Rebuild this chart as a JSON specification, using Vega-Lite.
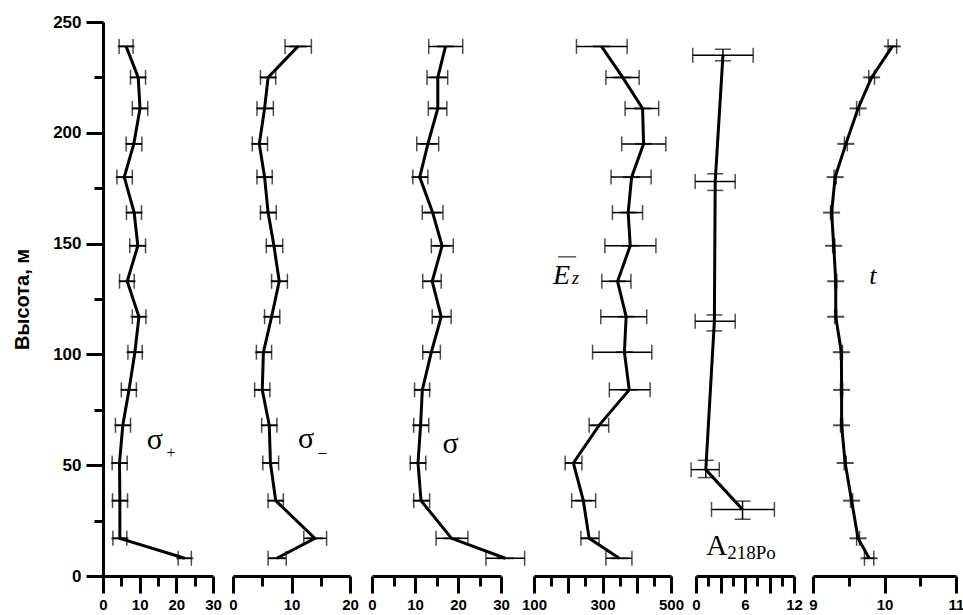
{
  "$schema": "https://vega.github.io/schema/vega-lite/v6.json",
  "background": "white",
  "padding": {"left": 12, "top": 13, "right": 0, "bottom": 0},
  "bounds": "flush",
  "spacing": 20,
  "config": {
    "view": {"stroke": null},
    "axis": {
      "domainColor": "black", "domainWidth": 3, "tickColor": "black", "tickWidth": 3,
      "labelColor": "black", "labelFont": "Liberation Sans", "labelFontWeight": "bold",
      "labelFontSize": 15, "labelFlush": false, "labelOverlap": false, "labelBound": false,
      "grid": false, "labelPadding": 4, "tickSize": 17
    }
  },
  "datasets": {
    "sp": [
      {"h": 8, "v": 22.3, "lo": 20.5, "hi": 24.1},
      {"h": 17, "v": 4.6, "lo": 2.7, "hi": 6.5},
      {"h": 34, "v": 4.6, "lo": 2.6, "hi": 6.7},
      {"h": 51, "v": 4.5, "lo": 2.5, "hi": 6.6},
      {"h": 68, "v": 5.4, "lo": 3.4, "hi": 7.5},
      {"h": 84, "v": 7.1, "lo": 5.0, "hi": 9.1},
      {"h": 101, "v": 8.7, "lo": 6.8, "hi": 10.7},
      {"h": 117, "v": 9.8, "lo": 8.0, "hi": 11.7},
      {"h": 133, "v": 6.6, "lo": 4.5, "hi": 8.5},
      {"h": 149, "v": 9.5, "lo": 7.3, "hi": 11.6},
      {"h": 164, "v": 8.5, "lo": 6.4, "hi": 10.5},
      {"h": 180, "v": 5.8, "lo": 3.8, "hi": 8.0},
      {"h": 195, "v": 8.4, "lo": 6.3, "hi": 10.6},
      {"h": 211, "v": 10.1, "lo": 8.0, "hi": 12.2},
      {"h": 225, "v": 9.6, "lo": 7.5, "hi": 11.6},
      {"h": 239, "v": 6.3, "lo": 4.4, "hi": 8.2}
    ],
    "sm": [
      {"h": 8, "v": 7.5, "lo": 6.0, "hi": 9.1},
      {"h": 17, "v": 14.0, "lo": 12.1, "hi": 16.0},
      {"h": 34, "v": 7.3, "lo": 6.0, "hi": 8.6},
      {"h": 51, "v": 6.4, "lo": 5.1, "hi": 7.8},
      {"h": 68, "v": 6.2, "lo": 4.9, "hi": 7.5},
      {"h": 84, "v": 5.0, "lo": 3.7, "hi": 6.3},
      {"h": 101, "v": 5.2, "lo": 4.0, "hi": 6.6},
      {"h": 117, "v": 6.6, "lo": 5.4, "hi": 8.0},
      {"h": 133, "v": 7.9, "lo": 6.6, "hi": 9.3},
      {"h": 149, "v": 7.0, "lo": 5.7, "hi": 8.5},
      {"h": 164, "v": 6.0, "lo": 4.7, "hi": 7.4},
      {"h": 180, "v": 5.4, "lo": 4.1, "hi": 6.7},
      {"h": 195, "v": 4.5, "lo": 3.3, "hi": 5.9},
      {"h": 211, "v": 5.4, "lo": 4.1, "hi": 6.9},
      {"h": 225, "v": 6.0, "lo": 4.7, "hi": 7.3},
      {"h": 239, "v": 11.1, "lo": 8.9, "hi": 13.4}
    ],
    "s": [
      {"h": 8, "v": 31.0, "lo": 26.5, "hi": 35.5},
      {"h": 17, "v": 18.5, "lo": 14.9, "hi": 22.3},
      {"h": 34, "v": 11.4, "lo": 9.7, "hi": 13.4},
      {"h": 51, "v": 10.7, "lo": 8.9, "hi": 12.5},
      {"h": 68, "v": 11.3, "lo": 9.7, "hi": 13.2},
      {"h": 84, "v": 11.7, "lo": 9.9, "hi": 13.4},
      {"h": 101, "v": 13.8, "lo": 11.8, "hi": 15.9},
      {"h": 117, "v": 16.1, "lo": 14.0, "hi": 18.4},
      {"h": 133, "v": 14.0, "lo": 11.8, "hi": 16.1},
      {"h": 149, "v": 16.3, "lo": 13.8, "hi": 18.9},
      {"h": 164, "v": 14.1, "lo": 11.7, "hi": 16.5},
      {"h": 180, "v": 11.1, "lo": 9.5, "hi": 13.0},
      {"h": 195, "v": 13.0, "lo": 10.4, "hi": 15.5},
      {"h": 211, "v": 15.3, "lo": 13.1, "hi": 17.4},
      {"h": 225, "v": 15.3, "lo": 12.8, "hi": 17.6},
      {"h": 239, "v": 17.1, "lo": 13.2, "hi": 21.1}
    ],
    "ez": [
      {"h": 8, "v": 349, "lo": 310, "hi": 386},
      {"h": 17, "v": 261, "lo": 237, "hi": 290},
      {"h": 34, "v": 244, "lo": 210, "hi": 280},
      {"h": 51, "v": 215, "lo": 191, "hi": 240},
      {"h": 68, "v": 290, "lo": 261, "hi": 318},
      {"h": 84, "v": 378, "lo": 320, "hi": 439},
      {"h": 101, "v": 364, "lo": 271, "hi": 444},
      {"h": 117, "v": 369, "lo": 295, "hi": 429},
      {"h": 133, "v": 344, "lo": 298, "hi": 383},
      {"h": 149, "v": 381, "lo": 307, "hi": 456},
      {"h": 164, "v": 375, "lo": 329, "hi": 417},
      {"h": 180, "v": 385, "lo": 325, "hi": 442},
      {"h": 195, "v": 420, "lo": 356, "hi": 485},
      {"h": 211, "v": 417, "lo": 366, "hi": 464},
      {"h": 225, "v": 359, "lo": 310, "hi": 407},
      {"h": 239, "v": 297, "lo": 224, "hi": 372}
    ],
    "a": [
      {"h": 30, "v": 5.7, "lo": 1.9, "hi": 9.6, "hlo": 25.6, "hhi": 33.8},
      {"h": 48, "v": 1.2, "lo": -0.6, "hi": 2.85, "hlo": 44.4, "hhi": 52.2},
      {"h": 115, "v": 2.25, "lo": -0.1, "hi": 4.8, "hlo": 110.6, "hhi": 117.8},
      {"h": 178, "v": 2.35, "lo": -0.1, "hi": 4.8, "hlo": 174, "hhi": 181.5},
      {"h": 235, "v": 3.3, "lo": -0.4, "hi": 7.0, "hlo": 232.5, "hhi": 237.7}
    ],
    "t": [
      {"h": 8, "v": 9.785, "lo": 9.72, "hi": 9.85},
      {"h": 17, "v": 9.63, "lo": 9.61, "hi": 9.65},
      {"h": 34, "v": 9.54, "lo": 9.525, "hi": 9.555},
      {"h": 51, "v": 9.45, "lo": 9.435, "hi": 9.465},
      {"h": 68, "v": 9.4, "lo": 9.385, "hi": 9.415},
      {"h": 84, "v": 9.4, "lo": 9.385, "hi": 9.415},
      {"h": 101, "v": 9.397, "lo": 9.382, "hi": 9.412},
      {"h": 117, "v": 9.318, "lo": 9.303, "hi": 9.333},
      {"h": 133, "v": 9.318, "lo": 9.303, "hi": 9.333},
      {"h": 149, "v": 9.29, "lo": 9.275, "hi": 9.305},
      {"h": 164, "v": 9.26, "lo": 9.245, "hi": 9.275},
      {"h": 180, "v": 9.31, "lo": 9.295, "hi": 9.325},
      {"h": 195, "v": 9.46, "lo": 9.44, "hi": 9.48},
      {"h": 211, "v": 9.63, "lo": 9.61, "hi": 9.65},
      {"h": 225, "v": 9.82, "lo": 9.78, "hi": 9.86},
      {"h": 239, "v": 10.11, "lo": 10.05, "hi": 10.17}
    ]
  },
  "hconcat": [
    {
      "width": 110, "height": 554,
      "data": {"name": "sp"},
      "resolve": {"axis": {"x": "independent", "y": "independent"}},
      "layer": [
        {"mark": {"type": "rule", "color": "black", "strokeWidth": 1.5},
         "encoding": {
           "x": {"field": "lo", "type": "quantitative", "title": null,
             "axis": {"orient": "bottom", "title": null, "values": [5, 15, 25], "labels": false, "domain": false, "tickSize": 10}},
           "x2": {"field": "hi"},
           "y": {"field": "h", "type": "quantitative", "title": null, "scale": {"domain": [0, 250], "nice": false, "zero": false},
             "axis": {"orient": "left", "title": null, "values": [25, 75, 125, 175, 225], "labels": false, "domain": false, "tickSize": 9}}}},
        {"mark": {"type": "tick", "orient": "vertical", "color": "black", "size": 15, "thickness": 1.5},
         "encoding": {"x": {"field": "lo", "type": "quantitative", "axis": null}, "y": {"field": "h", "type": "quantitative", "axis": null}}},
        {"mark": {"type": "tick", "orient": "vertical", "color": "black", "size": 15, "thickness": 1.5},
         "encoding": {"x": {"field": "hi", "type": "quantitative", "axis": null}, "y": {"field": "h", "type": "quantitative", "axis": null}}},
        {"mark": {"type": "tick", "orient": "horizontal", "color": "black", "size": 17, "thickness": 2},
         "encoding": {"x": {"field": "v", "type": "quantitative", "axis": null}, "y": {"field": "h", "type": "quantitative", "axis": null}}},
        {"mark": {"type": "line", "color": "black", "strokeWidth": 3},
         "encoding": {
           "x": {"field": "v", "type": "quantitative", "title": null,
             "scale": {"domain": [0, 30], "nice": false, "zero": false},
             "axis": {"orient": "bottom", "title": null, "values": [0, 10, 20, 30], "format": "d", "labelOverlap": false}},
           "y": {"field": "h", "type": "quantitative", "title": "Высота, м",
             "axis": {"orient": "left", "values": [0, 50, 100, 150, 200, 250], "format": "d", "labelOverlap": false,
               "labelFontSize": 17, "labelPadding": 5,
               "titleFont": "Liberation Sans", "titleFontWeight": "bold", "titleFontSize": 20,
               "titleColor": "black", "titlePadding": 20}},
           "order": {"field": "h", "type": "quantitative"}}},
        {"data": {"values": [{"v": 11.9, "h": 57.3, "txt": "σ"}]},
         "mark": {"type": "text", "font": "Liberation Serif", "fontSize": 30, "align": "left", "baseline": "alphabetic", "color": "black"},
         "encoding": {"x": {"field": "v", "type": "quantitative", "axis": null}, "y": {"field": "h", "type": "quantitative", "axis": null}, "text": {"field": "txt"}}},
        {"data": {"values": [{"v": 17.3, "h": 53.2, "txt": "+"}]},
         "mark": {"type": "text", "font": "Liberation Serif", "fontSize": 16, "align": "left", "baseline": "alphabetic", "color": "black"},
         "encoding": {"x": {"field": "v", "type": "quantitative", "axis": null}, "y": {"field": "h", "type": "quantitative", "axis": null}, "text": {"field": "txt"}}}
      ]
    },
    {
      "bounds": "flush", "spacing": 22,
      "hconcat": [
        {
          "width": 117, "height": 554,
          "data": {"name": "sm"},
          "resolve": {"axis": {"x": "independent"}},
          "encoding": {"y": {"field": "h", "type": "quantitative", "title": null, "scale": {"domain": [0, 250], "nice": false, "zero": false}, "axis": null}},
          "layer": [
            {"mark": {"type": "rule", "color": "black", "strokeWidth": 1.5},
             "encoding": {"x": {"field": "lo", "type": "quantitative", "title": null,
               "axis": {"orient": "bottom", "title": null, "values": [5, 15], "labels": false, "domain": false, "tickSize": 10}}, "x2": {"field": "hi"}}},
            {"mark": {"type": "tick", "orient": "vertical", "color": "black", "size": 15, "thickness": 1.5},
             "encoding": {"x": {"field": "lo", "type": "quantitative", "axis": null}}},
            {"mark": {"type": "tick", "orient": "vertical", "color": "black", "size": 15, "thickness": 1.5},
             "encoding": {"x": {"field": "hi", "type": "quantitative", "axis": null}}},
            {"mark": {"type": "tick", "orient": "horizontal", "color": "black", "size": 17, "thickness": 2},
             "encoding": {"x": {"field": "v", "type": "quantitative", "axis": null}}},
            {"mark": {"type": "line", "color": "black", "strokeWidth": 3},
             "encoding": {
               "x": {"field": "v", "type": "quantitative", "title": null,
                 "scale": {"domain": [0, 20], "nice": false, "zero": false},
                 "axis": {"orient": "bottom", "title": null, "values": [0, 10, 20], "format": "d", "labelOverlap": false}},
               "order": {"field": "h", "type": "quantitative"}}},
            {"data": {"values": [{"v": 11.1, "h": 57.8, "txt": "σ"}]},
             "mark": {"type": "text", "font": "Liberation Serif", "fontSize": 30, "align": "left", "baseline": "alphabetic", "color": "black"},
             "encoding": {"x": {"field": "v", "type": "quantitative", "axis": null}, "text": {"field": "txt"}}},
            {"data": {"values": [{"v": 14.6, "h": 53.9, "txt": "–"}]},
             "mark": {"type": "text", "font": "Liberation Serif", "fontSize": 16, "align": "left", "baseline": "alphabetic", "color": "black"},
             "encoding": {"x": {"field": "v", "type": "quantitative", "axis": null}, "text": {"field": "txt"}}}
          ]
        },
        {
          "bounds": "flush", "spacing": 33,
          "hconcat": [
            {
              "width": 129, "height": 554,
              "data": {"name": "s"},
              "resolve": {"axis": {"x": "independent"}},
              "encoding": {"y": {"field": "h", "type": "quantitative", "title": null, "scale": {"domain": [0, 250], "nice": false, "zero": false}, "axis": null}},
              "layer": [
                {"mark": {"type": "rule", "color": "black", "strokeWidth": 1.5},
                 "encoding": {"x": {"field": "lo", "type": "quantitative", "title": null,
                   "axis": {"orient": "bottom", "title": null, "values": [5, 15, 25], "labels": false, "domain": false, "tickSize": 10}}, "x2": {"field": "hi"}}},
                {"mark": {"type": "tick", "orient": "vertical", "color": "black", "size": 15, "thickness": 1.5},
                 "encoding": {"x": {"field": "lo", "type": "quantitative", "axis": null}}},
                {"mark": {"type": "tick", "orient": "vertical", "color": "black", "size": 15, "thickness": 1.5},
                 "encoding": {"x": {"field": "hi", "type": "quantitative", "axis": null}}},
                {"mark": {"type": "tick", "orient": "horizontal", "color": "black", "size": 17, "thickness": 2},
                 "encoding": {"x": {"field": "v", "type": "quantitative", "axis": null}}},
                {"mark": {"type": "line", "color": "black", "strokeWidth": 3},
                 "encoding": {
                   "x": {"field": "v", "type": "quantitative", "title": null,
                     "scale": {"domain": [0, 30], "nice": false, "zero": false},
                     "axis": {"orient": "bottom", "title": null, "values": [0, 10, 20, 30], "format": "d", "labelOverlap": false}},
                   "order": {"field": "h", "type": "quantitative"}}},
                {"data": {"values": [{"v": 16.4, "h": 55.5, "txt": "σ"}]},
                 "mark": {"type": "text", "font": "Liberation Serif", "fontSize": 30, "align": "left", "baseline": "alphabetic", "color": "black"},
                 "encoding": {"x": {"field": "v", "type": "quantitative", "axis": null}, "text": {"field": "txt"}}}
              ]
            },
            {
              "bounds": "flush", "spacing": 25,
              "hconcat": [
                {
                  "width": 137, "height": 554,
                  "data": {"name": "ez"},
                  "resolve": {"axis": {"x": "independent"}},
                  "encoding": {"y": {"field": "h", "type": "quantitative", "title": null, "scale": {"domain": [0, 250], "nice": false, "zero": false}, "axis": null}},
                  "layer": [
                    {"mark": {"type": "rule", "color": "black", "strokeWidth": 1.5},
                     "encoding": {"x": {"field": "lo", "type": "quantitative", "title": null,
                       "axis": {"orient": "bottom", "title": null, "values": [150, 250, 350, 450], "labels": false, "domain": false, "tickSize": 10}}, "x2": {"field": "hi"}}},
                    {"mark": {"type": "tick", "orient": "vertical", "color": "black", "size": 15, "thickness": 1.5},
                     "encoding": {"x": {"field": "lo", "type": "quantitative", "axis": null}}},
                    {"mark": {"type": "tick", "orient": "vertical", "color": "black", "size": 15, "thickness": 1.5},
                     "encoding": {"x": {"field": "hi", "type": "quantitative", "axis": null}}},
                    {"mark": {"type": "tick", "orient": "horizontal", "color": "black", "size": 17, "thickness": 2},
                     "encoding": {"x": {"field": "v", "type": "quantitative", "axis": null}}},
                    {"mark": {"type": "line", "color": "black", "strokeWidth": 3},
                     "encoding": {
                       "x": {"field": "v", "type": "quantitative", "title": null,
                         "scale": {"domain": [100, 500], "nice": false, "zero": false},
                         "axis": {"orient": "bottom", "title": null, "values": [100, 200, 300, 400, 500], "format": "d", "labelOverlap": false,
                           "labelExpr": "datum.value === 200 || datum.value === 400 ? '' : datum.label"}},
                       "order": {"field": "h", "type": "quantitative"}}},
                    {"data": {"values": [{"v": 155.6, "h": 131.8, "txt": "E"}]},
                     "mark": {"type": "text", "font": "Liberation Serif", "fontSize": 28, "fontStyle": "italic", "align": "left", "baseline": "alphabetic", "color": "black"},
                     "encoding": {"x": {"field": "v", "type": "quantitative", "axis": null}, "text": {"field": "txt"}}},
                    {"data": {"values": [{"v": 211, "h": 131.8, "txt": "z"}]},
                     "mark": {"type": "text", "font": "Liberation Serif", "fontSize": 18, "fontStyle": "italic", "align": "left", "baseline": "alphabetic", "color": "black"},
                     "encoding": {"x": {"field": "v", "type": "quantitative", "axis": null}, "text": {"field": "txt"}}},
                    {"data": {"values": [{"v": 170, "v2": 223, "h": 144}]},
                     "mark": {"type": "rule", "color": "black", "strokeWidth": 1},
                     "encoding": {"x": {"field": "v", "type": "quantitative", "axis": null}, "x2": {"field": "v2"}}}
                  ]
                },
                {
                  "bounds": "flush", "spacing": 19,
                  "hconcat": [
                    {
                      "width": 98, "height": 554,
                      "data": {"name": "a"},
                      "resolve": {"axis": {"x": "independent"}},
                      "encoding": {"y": {"field": "h", "type": "quantitative", "title": null, "scale": {"domain": [0, 250], "nice": false, "zero": false}, "axis": null}},
                      "layer": [
                        {"mark": {"type": "rule", "color": "black", "strokeWidth": 1.5},
                         "encoding": {"x": {"field": "lo", "type": "quantitative", "title": null,
                           "axis": {"orient": "bottom", "title": null, "values": [1.5, 4.5, 7.5, 10.5], "labels": false, "domain": false, "tickSize": 10}}, "x2": {"field": "hi"}}},
                        {"mark": {"type": "tick", "orient": "vertical", "color": "black", "size": 15, "thickness": 1.5},
                         "encoding": {"x": {"field": "lo", "type": "quantitative", "axis": null}}},
                        {"mark": {"type": "tick", "orient": "vertical", "color": "black", "size": 15, "thickness": 1.5},
                         "encoding": {"x": {"field": "hi", "type": "quantitative", "axis": null}}},
                        {"mark": {"type": "rule", "color": "black", "strokeWidth": 1.5},
                         "encoding": {"x": {"field": "v", "type": "quantitative", "axis": null}, "y": {"field": "hlo", "type": "quantitative", "title": null, "axis": null}, "y2": {"field": "hhi"}}},
                        {"mark": {"type": "tick", "orient": "horizontal", "color": "black", "size": 16, "thickness": 1.5},
                         "encoding": {"x": {"field": "v", "type": "quantitative", "axis": null}, "y": {"field": "hlo", "type": "quantitative", "title": null, "axis": null}}},
                        {"mark": {"type": "tick", "orient": "horizontal", "color": "black", "size": 16, "thickness": 1.5},
                         "encoding": {"x": {"field": "v", "type": "quantitative", "axis": null}, "y": {"field": "hhi", "type": "quantitative", "title": null, "axis": null}}},
                        {"mark": {"type": "line", "color": "black", "strokeWidth": 3},
                         "encoding": {
                           "x": {"field": "v", "type": "quantitative", "title": null,
                             "scale": {"domain": [0, 12], "nice": false, "zero": false},
                             "axis": {"orient": "bottom", "title": null, "values": [0, 3, 6, 9, 12], "format": "d", "labelOverlap": false,
                               "labelExpr": "datum.value % 6 === 0 ? datum.label : ''"}},
                           "order": {"field": "h", "type": "quantitative"}}},
                        {"data": {"values": [{"v": 1.26, "h": 9.5, "txt": "A"}]},
                         "mark": {"type": "text", "font": "Liberation Serif", "fontSize": 29, "align": "left", "baseline": "alphabetic", "color": "black"},
                         "encoding": {"x": {"field": "v", "type": "quantitative", "axis": null}, "text": {"field": "txt"}}},
                        {"data": {"values": [{"v": 3.82, "h": 7.7, "txt": "218Po"}]},
                         "mark": {"type": "text", "font": "Liberation Serif", "fontSize": 19, "align": "left", "baseline": "alphabetic", "color": "black"},
                         "encoding": {"x": {"field": "v", "type": "quantitative", "axis": null}, "text": {"field": "txt"}}}
                      ]
                    },
                    {
                      "width": 143, "height": 554,
                      "data": {"name": "t"},
                      "resolve": {"axis": {"x": "independent"}},
                      "encoding": {"y": {"field": "h", "type": "quantitative", "title": null, "scale": {"domain": [0, 250], "nice": false, "zero": false}, "axis": null}},
                      "layer": [
                        {"mark": {"type": "rule", "color": "black", "strokeWidth": 1.5},
                         "encoding": {"x": {"field": "lo", "type": "quantitative", "title": null,
                           "axis": {"orient": "bottom", "title": null, "values": [9.5, 10.5], "labels": false, "domain": false, "tickSize": 10}}, "x2": {"field": "hi"}}},
                        {"mark": {"type": "tick", "orient": "vertical", "color": "black", "size": 15, "thickness": 1.5},
                         "encoding": {"x": {"field": "lo", "type": "quantitative", "axis": null}}},
                        {"mark": {"type": "tick", "orient": "vertical", "color": "black", "size": 15, "thickness": 1.5},
                         "encoding": {"x": {"field": "hi", "type": "quantitative", "axis": null}}},
                        {"mark": {"type": "tick", "orient": "horizontal", "color": "black", "size": 17, "thickness": 2},
                         "encoding": {"x": {"field": "v", "type": "quantitative", "axis": null}}},
                        {"mark": {"type": "line", "color": "black", "strokeWidth": 3},
                         "encoding": {
                           "x": {"field": "v", "type": "quantitative", "title": null,
                             "scale": {"domain": [9, 11], "nice": false, "zero": false},
                             "axis": {"orient": "bottom", "title": null, "values": [9, 10, 11], "labelOverlap": false,
                               "labelExpr": "datum.value < 9.5 ? '9' : (datum.value < 10.5 ? '10' : '11')"}},
                           "order": {"field": "h", "type": "quantitative"}}},
                        {"data": {"values": [{"v": 9.785, "h": 131.8, "txt": "t"}]},
                         "mark": {"type": "text", "font": "Liberation Serif", "fontSize": 26, "fontStyle": "italic", "align": "left", "baseline": "alphabetic", "color": "black"},
                         "encoding": {"x": {"field": "v", "type": "quantitative", "axis": null}, "text": {"field": "txt"}}}
                      ]
                    }
                  ]
                }
              ]
            }
          ]
        }
      ]
    }
  ]
}
